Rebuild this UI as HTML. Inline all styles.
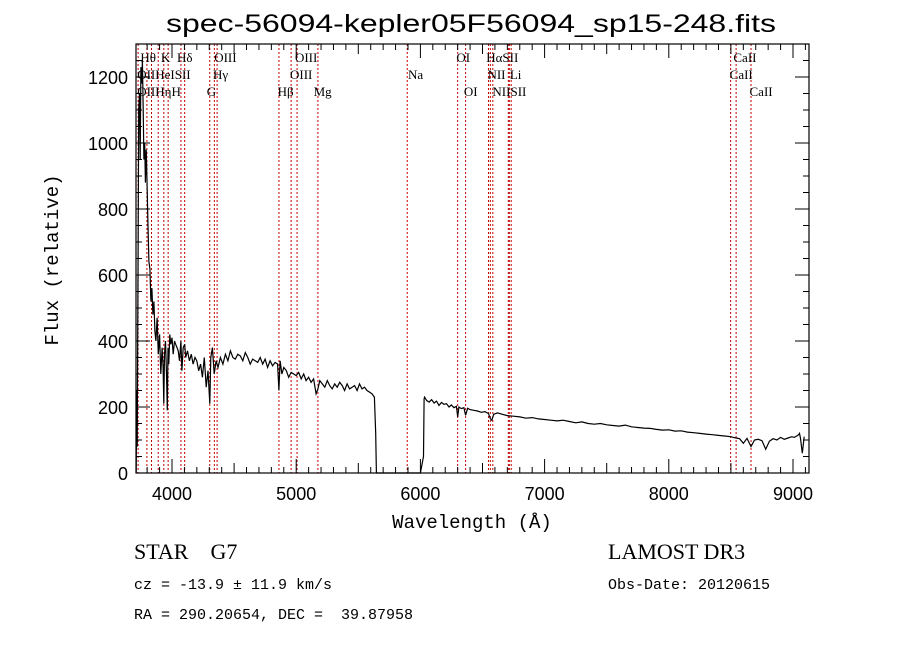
<!DOCTYPE html>
<html><head><meta charset="utf-8"><style>
body{margin:0;background:#fff;}
svg{display:block;}
svg text{white-space:pre;}
.lb{font-family:"Liberation Serif",serif;font-size:13px;fill:#000;}
.tk{font-family:"Liberation Sans",sans-serif;font-size:18px;fill:#000;}
</style></head><body>
<svg id="chart" width="900" height="649" viewBox="0 0 900 649" xmlns="http://www.w3.org/2000/svg">
<rect width="900" height="649" fill="#fff"/>
<text x="166" y="32" textLength="610" lengthAdjust="spacingAndGlyphs" font-family="Liberation Sans, sans-serif" font-size="25">spec-56094-kepler05F56094_sp15-248.fits</text>
<g id="lines"></g>
<g id="labels"></g>
<g id="ticks"></g>
<path id="spec" fill="none" stroke="#000" stroke-width="1.2"/>
<rect x="136" y="44" width="673" height="429" fill="none" stroke="#000" stroke-width="1.2"/>
<text x="472" y="528" text-anchor="middle" font-family="Liberation Mono, monospace" font-size="19">Wavelength (Å)</text>
<text transform="translate(58,260) rotate(-90)" text-anchor="middle" font-family="Liberation Mono, monospace" font-size="19">Flux (relative)</text>
<text x="134" y="559" font-family="Liberation Serif, serif" font-size="22">STAR    G7</text>
<text x="134" y="589" font-family="Liberation Mono, monospace" font-size="15">cz = -13.9 ± 11.9 km/s</text>
<text x="134" y="619" font-family="Liberation Mono, monospace" font-size="15">RA = 290.20654, DEC =  39.87958</text>
<text x="608" y="559" font-family="Liberation Serif, serif" font-size="22">LAMOST DR3</text>
<text x="608" y="589" font-family="Liberation Mono, monospace" font-size="15">Obs-Date: 20120615</text>
</svg>
<script>
const wave=[3712,3716,3720,3726,3732,3738,3744,3750,3756,3762,3768,3774,3780,3786,3792,3798,3806,3814,3822,3830,3838,3846,3854,3862,3870,3880,3890,3900,3910,3920,3928,3934,3940,3948,3956,3962,3968,3974,3982,3990,4000,4010,4020,4030,4040,4050,4060,4072,4080,4090,4102,4110,4125,4140,4155,4170,4185,4200,4215,4230,4245,4260,4275,4290,4304,4312,4325,4340,4355,4370,4390,4410,4430,4450,4470,4490,4510,4530,4550,4570,4590,4610,4630,4650,4670,4690,4710,4730,4750,4770,4790,4810,4830,4850,4861,4870,4885,4900,4920,4940,4960,4980,5000,5020,5040,5060,5080,5100,5120,5140,5160,5175,5190,5210,5230,5250,5270,5290,5310,5330,5350,5370,5390,5410,5430,5450,5470,5490,5510,5530,5550,5570,5590,5610,5630,5640,5646,5650,5700,5800,5900,6000,6025,6030,6034,6050,6070,6090,6110,6130,6150,6170,6190,6210,6230,6250,6270,6290,6300,6310,6330,6350,6364,6380,6400,6430,6460,6490,6520,6548,6563,6575,6590,6620,6660,6700,6750,6800,6850,6900,6950,7000,7050,7100,7150,7200,7250,7300,7350,7400,7450,7500,7550,7600,7650,7700,7750,7800,7850,7900,7950,8000,8050,8100,8150,8200,8250,8300,8350,8400,8450,8498,8520,8542,8570,8600,8630,8662,8690,8720,8750,8780,8810,8840,8870,8900,8930,8960,8990,9010,9030,9045,9052,9060,9075,9090];
const flux=[0,250,80,600,1100,1150,950,1230,1180,1250,1100,950,1000,880,980,900,760,640,620,520,560,480,520,430,400,470,360,420,300,380,320,210,360,400,300,190,380,330,420,390,410,360,400,390,380,370,340,400,310,380,390,350,370,340,360,330,350,340,310,330,290,350,260,310,210,350,380,300,340,320,350,330,360,340,370,350,345,360,355,340,365,350,330,345,340,335,350,330,345,320,340,325,335,330,250,340,300,320,310,290,305,300,295,305,285,300,280,290,275,285,240,255,280,270,260,280,265,255,270,260,275,265,250,270,255,260,265,250,270,255,260,250,245,240,230,120,0,0,0,0,0,0,50,225,230,220,215,222,212,218,205,214,208,210,200,206,198,202,170,200,195,198,175,196,192,190,188,184,186,180,165,160,178,182,178,174,172,170,166,168,164,162,160,158,160,156,152,155,150,148,150,146,144,142,145,140,138,136,135,132,130,131,127,128,124,122,120,118,116,114,112,110,108,106,104,90,105,80,100,102,98,72,96,104,100,108,102,106,110,108,112,116,120,105,60,110,120,95,125,110];
const xTicks=[4000,5000,6000,7000,8000,9000];
const yTicks=[0,200,400,600,800,1000,1200];
const lineWaves=[3727,3798,3835,3889,3934,3969,4072,4102,4304,4341,4363,4861,4959,5007,5175,5894,6300,6364,6548,6563,6583,6708,6716,6731,8498,8542,8662];
const labelText=["Hθ","K","Hδ","OIII","OIII","OI","HαSII","CaII","OIIHeISII","Hγ","OIII","Na","NII","Li","CaII","OIIHηH","G","Hβ","Mg","OI","NIISII","CaII"];
const labelWave=[3745,3910,4040,4340,4990,6290,6530,8520,3720,4330,4950,5900,6540,6720,8490,3720,4280,4850,5140,6350,6580,8650];
const labelRow=[0,0,0,0,0,0,0,0,1,1,1,1,1,1,1,2,2,2,2,2,2,2];
const X=w=>172+(w-4000)*0.1242, Y=f=>473-f*0.33;
const NS="http://www.w3.org/2000/svg";
function mk(t,a,p){const e=document.createElementNS(NS,t);for(const k in a)e.setAttribute(k,a[k]);p.appendChild(e);return e;}
let d="";wave.forEach((w,i)=>{d+=(i?"L":"M")+X(w).toFixed(1)+","+Y(flux[i]).toFixed(1);});
document.getElementById("spec").setAttribute("d",d);
const gl=document.getElementById("lines");
lineWaves.forEach(w=>{const l=mk("line",{x1:X(w),x2:X(w),y1:44,y2:473,stroke:"#c00000","stroke-width":1,"stroke-dasharray":"2,2"},gl);

});
const glb=document.getElementById("labels");
labelText.forEach((t,i)=>{const e=mk("text",{x:X(labelWave[i]),y:62+labelRow[i]*17,class:"lb"},glb);e.textContent=t;

});
const gt=document.getElementById("ticks");
for(let w=3800;w<=9100;w+=100){const big=w%1000===0,mid=w%500===0;const h=big?14:(mid?10:6);
mk("line",{x1:X(w),x2:X(w),y1:473,y2:473-h,stroke:"#000"},gt);mk("line",{x1:X(w),x2:X(w),y1:44,y2:44+h,stroke:"#000"},gt);}
for(let f=0;f<=1300;f+=50){const big=f%200===0;const h=big?14:6;
mk("line",{x1:136,x2:136+h,y1:Y(f),y2:Y(f),stroke:"#000"},gt);mk("line",{x1:809,x2:809-h,y1:Y(f),y2:Y(f),stroke:"#000"},gt);}
xTicks.forEach(w=>{const e=mk("text",{x:X(w),y:500,"text-anchor":"middle",class:"tk"},gt);e.textContent=w;

});
yTicks.forEach(f=>{const e=mk("text",{x:128,y:Y(f)+7,"text-anchor":"end",class:"tk"},gt);e.textContent=f;

});
</script>
</body></html>
